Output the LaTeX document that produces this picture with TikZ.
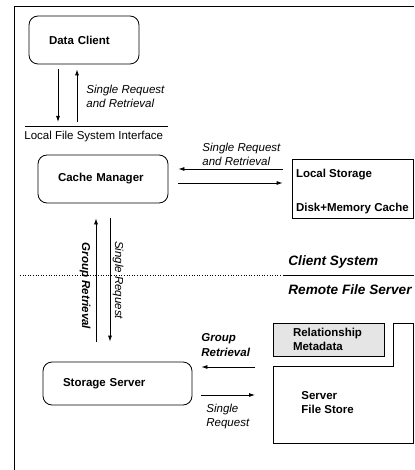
\documentclass[tikz,border=0pt]{standalone}
\usepackage{fontspec}
\setmainfont{Liberation Sans}
\usetikzlibrary{arrows.meta,calc}

\begin{document}
\begin{tikzpicture}[x=1pt,y=-1pt,line width=0.8pt,
  every node/.style={font=\fontsize{11.5}{13.5}\selectfont},
  proc/.style={draw,rounded corners=9pt,inner xsep=20pt,align=left,font=\fontsize{11.5}{13.5}\selectfont\bfseries},
  store/.style={draw,inner xsep=20pt,align=left,font=\fontsize{11.5}{14}\selectfont\bfseries},
  txt/.style={anchor=west,inner sep=0pt,align=left},
  btxt/.style={txt,font=\fontsize{11.5}{14}\selectfont\bfseries},
  lbl/.style={txt,font=\fontsize{11.5}{14}\selectfont\itshape},
  blbl/.style={txt,font=\fontsize{11.5}{15}\selectfont\bfseries\itshape},
  side/.style={txt,font=\fontsize{13.6}{16}\selectfont\bfseries\itshape},
  arr/.style={-{Latex[length=6pt,width=4pt]}}]
\useasboundingbox (0,0) rectangle (414,470);
% outer frame
\draw (414,6) -- (14,6) -- (14,470);

% client side
\node[proc,text width=70pt,minimum height=48pt] (dc) at (84,40) {Data Client};
\coordinate (ifL) at (25,126);
\coordinate (ifR) at (168,126);
\draw (ifL) -- (ifR);
\node[txt] (iflbl) at (24,137) {Local File System Interface};
\draw[arr] ($(dc.south)+(-26,5)$) -- ($(dc.south |- ifL)+(-26,-4)$);
\draw[arr] ($(dc.south |- ifL)+(-7,-4)$) -- ($(dc.south)+(-7,5)$);
\node[lbl] (dclbl) at (86,96.5) {Single Request\\and Retrieval};

\node[proc,text width=90pt,minimum height=48pt] (cm) at (103,179) {Cache Manager};
\node[draw,minimum width=121pt,minimum height=59pt] (ls) at (352.5,188.5) {};
\node[btxt] (lsname) at ($(ls.north west)+(4,16)$) {Local Storage};
\node[btxt] (lskind) at ($(ls.north west)+(4,50)$) {Disk+Memory Cache};
\draw[arr] ($(ls.west |- cm.east)+(-9,-10)$) -- ($(cm.east)+(10,-10)$);
\draw[arr] ($(cm.east)+(10,4)$) -- ($(ls.west |- cm.east)+(-9,4)$);
\node[lbl] (cmlbl) at (202,154) {Single Request\\and Retrieval};

% client / server divide
\coordinate (divL) at (20,275.5);
\coordinate (divM) at (283,275.5);
\coordinate (divR) at (414,275.5);
\draw[dotted,line width=0.6pt] (divL) -- (divM);
\draw (divM) -- (divR);
\node[side] (client) at (288,262) {Client System};
\node[side] (remote) at (288,290) {Remote File Server};

% server side
\node[proc,text width=109pt,minimum height=43pt] (ss) at (117.5,383.5) {Storage Server};
\draw[arr] ($(cm.south |- ss.north)+(-7,-20)$) -- ($(cm.south)+(-7,15)$);
\draw[arr] ($(cm.south)+(7,15)$) -- ($(cm.south |- ss.north)+(7,-20)$);
\node[blbl,rotate=-90,anchor=center] (grpv) at (85,286) {Group Retrieval};
\node[lbl,rotate=-90,anchor=center] (sglv) at (118,280) {Single Request};

\node[store,fill=gray!20,text width=71pt,minimum height=33pt] (rm) at (328.5,339.5) {Relationship\\Metadata};
\coordinate (sfsA) at (273,366);
\draw (sfsA) -- (393,366) -- (393,323) -- (413,323) -- (413,443) -- (273,443) -- cycle;
\node[btxt] (sfs) at (301,403) {Server\\File Store};
\draw[arr] ($(sfsA |- ss.east)+(-18,-16.5)$) -- ($(ss.east)+(9,-16.5)$);
\draw[arr] ($(ss.east)+(9,11.5)$) -- ($(sfsA |- ss.east)+(-18,11.5)$);
\node[blbl] (grph) at (201,345) {Group\\Retrieval};
\node[lbl] (sglh) at (206,417) {Single\\Request};
\end{tikzpicture}
\end{document}
